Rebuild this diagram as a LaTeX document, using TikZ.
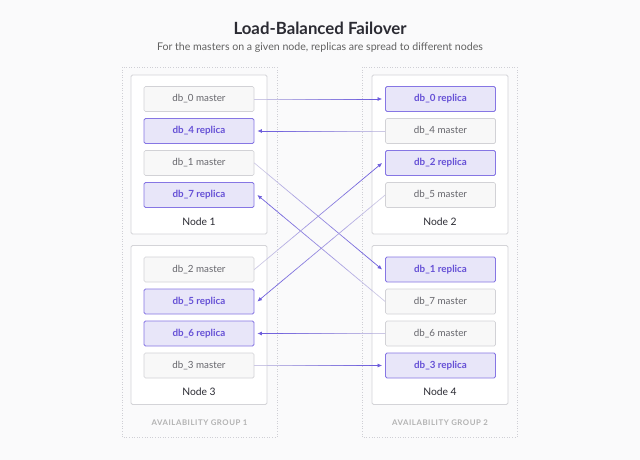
\documentclass[tikz,border=0pt]{standalone}
\usepackage{fontspec}
\setmainfont{Lato}
\usetikzlibrary{arrows.meta,calc}

\definecolor{bgcol}{HTML}{FAFAFB}
\definecolor{groupline}{HTML}{CFCFD5}
\definecolor{nodeline}{HTML}{D4D4D8}
\definecolor{masterfill}{HTML}{F8F8F8}
\definecolor{masterline}{HTML}{D2D2D6}
\definecolor{mastertext}{HTML}{66666C}
\definecolor{replicafill}{HTML}{E8E6F9}
\definecolor{replicaline}{HTML}{8676E4}
\definecolor{replicatext}{HTML}{6651D6}
\definecolor{flowlight}{HTML}{D2CFE6}
\definecolor{flowdark}{HTML}{6E5EDC}
\definecolor{titletext}{HTML}{2B2B33}

\tikzset{
  groupbox/.style={draw=groupline, dotted, line width=0.6pt},
  nodebox/.style={draw=nodeline, fill=white, rounded corners=1.5pt, line width=0.8pt,
    minimum width=136, minimum height=159, inner sep=0pt},
  master/.style={draw=masterline, fill=masterfill, rounded corners=1.5pt, line width=0.7pt,
    minimum width=110, minimum height=25, inner sep=0pt, text=mastertext, font=\fontsize{9.8}{11}\selectfont},
  replica/.style={draw=replicaline, fill=replicafill, rounded corners=1.5pt, line width=0.8pt,
    minimum width=110, minimum height=25, inner sep=0pt, text=replicatext, font=\bfseries\fontsize{9.8}{11}\selectfont},
  nodelabel/.style={text=titletext, font=\fontsize{10.3}{12}\selectfont},
  grouplabel/.style={text=black!30, font=\bfseries\fontsize{7.8}{9}\selectfont\addfontfeatures{LetterSpace=7}}
}

% master -> replica, faint at the master end
\newcommand{\flowline}[2]{%
  \foreach \s in {0,...,8}{
    \pgfmathtruncatemacro{\pct}{\s*11+6}
    \draw[draw=flowdark!\pct!flowlight, line width=0.7pt, line cap=round]
      ($(#1)!0.1*\s!(#2)$) -- ($(#1)!0.1*\s+0.1!(#2)$);
  }
  \draw[flowdark, line width=0.7pt, -{Latex[length=4.5pt,width=4pt]}] ($(#1)!0.9!(#2)$) -- (#2);
}

\begin{document}
\begin{tikzpicture}[x=1pt, y=-1pt]
  \fill[bgcol] (0,0) rectangle (640,460);
  \useasboundingbox (0,0) rectangle (640,460);

  \node[text=titletext, font=\bfseries\fontsize{16.8}{19}\selectfont] (title) at (320,28) {Load-Balanced Failover};
  \node[text=black!62, font=\fontsize{10.6}{12}\selectfont] (subtitle) at (320,47.5) {For the masters on a given node, replicas are spread to different nodes};

  % availability groups
  \draw[groupbox] (122,67) rectangle (277,437);
  \draw[groupbox] (362,67) rectangle (517,437);
  \node[grouplabel] (ag1) at (199.5,423) {AVAILABILITY GROUP 1};
  \node[grouplabel] (ag2) at (440,423) {AVAILABILITY GROUP 2};

  % nodes
  \node[nodebox] (node1) at (199,154.5) {};
  \node[nodebox] (node2) at (440,154.5) {};
  \node[nodebox] (node3) at (199,325) {};
  \node[nodebox] (node4) at (440,325) {};
  \node[nodelabel] (n1label) at (199,222) {Node 1};
  \node[nodelabel] (n2label) at (440,222) {Node 2};
  \node[nodelabel] (n3label) at (199,392) {Node 3};
  \node[nodelabel] (n4label) at (440,392) {Node 4};

  % node 1
  \node[master] (m0) at (199,99) {db\_0 master};
  \node[replica] (r4) at (199,131) {db\_4 replica};
  \node[master] (m1) at (199,163) {db\_1 master};
  \node[replica] (r7) at (199,195) {db\_7 replica};
  % node 2
  \node[replica] (r0) at (440.5,99) {db\_0 replica};
  \node[master] (m4) at (440.5,131) {db\_4 master};
  \node[replica] (r2) at (440.5,163) {db\_2 replica};
  \node[master] (m5) at (440.5,195) {db\_5 master};
  % node 3
  \node[master] (m2) at (199,269.5) {db\_2 master};
  \node[replica] (r5) at (199,301.5) {db\_5 replica};
  \node[replica] (r6) at (199,333.5) {db\_6 replica};
  \node[master] (m3) at (199,365.5) {db\_3 master};
  % node 4
  \node[replica] (r1) at (440.5,269.5) {db\_1 replica};
  \node[master] (m7) at (440.5,301.5) {db\_7 master};
  \node[master] (m6) at (440.5,333.5) {db\_6 master};
  \node[replica] (r3) at (440.5,365.5) {db\_3 replica};

  % arrow ends, just short of the replicas
  \coordinate (e0) at ([xshift=-3]r0.west);
  \coordinate (e1) at ([xshift=-3]r1.west);
  \coordinate (e2) at ([xshift=-3]r2.west);
  \coordinate (e3) at ([xshift=-3]r3.west);
  \coordinate (e4) at ([xshift=3]r4.east);
  \coordinate (e5) at ([xshift=3]r5.east);
  \coordinate (e6) at ([xshift=3]r6.east);
  \coordinate (e7) at ([xshift=3]r7.east);

  \flowline{m0.east}{e0}
  \flowline{m4.west}{e4}
  \flowline{m1.east}{e1}
  \flowline{m7.west}{e7}
  \flowline{m2.east}{e2}
  \flowline{m5.west}{e5}
  \flowline{m6.west}{e6}
  \flowline{m3.east}{e3}
\end{tikzpicture}
\end{document}
